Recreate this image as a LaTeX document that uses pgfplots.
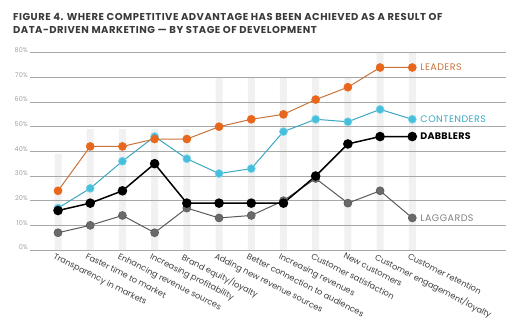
\documentclass[border=0pt]{standalone}
\usepackage{fontspec}
\setmainfont{Poppins}
\usepackage{pgfplots}
\pgfplotsset{compat=1.18}
\definecolor{leadC}{HTML}{E8671C}
\definecolor{leadL}{HTML}{C8733A}
\definecolor{contC}{HTML}{45BFDC}
\definecolor{contL}{HTML}{3AA8C2}
\definecolor{lagC}{HTML}{6A6A6A}
\definecolor{lagL}{HTML}{5A5A5A}
\definecolor{barC}{HTML}{F1F1F1}
\definecolor{gridC}{HTML}{A8A8A8}
\definecolor{titleC}{HTML}{3A3A3A}
\begin{document}
\begin{tikzpicture}
\node[anchor=base west, inner sep=0pt, text=titleC, font=\fontsize{10bp}{11bp}\selectfont\bfseries\addfontfeatures{LetterSpace=5}] at (-17bp,229bp) {FIGURE 4. WHERE COMPETITIVE ADVANTAGE HAS BEEN ACHIEVED AS A RESULT OF};
\node[anchor=base west, inner sep=0pt, text=titleC, font=\fontsize{10bp}{11bp}\selectfont\bfseries\addfontfeatures{LetterSpace=5}] at (-17bp,216bp) {DATA-DRIVEN MARKETING --- BY STAGE OF DEVELOPMENT};
\begin{axis}[
  set layers,
  scale only axis,
  width=476bp, height=197.3bp,
  xmin=-0.87, xmax=13.91, ymin=0, ymax=80,
  axis line style={draw=none},
  clip=false,
  major tick length=0pt,
  ytick={0,10,...,80},
  yticklabel={\pgfmathprintnumber{\tick}\%},
  /pgf/number format/assume math mode=true,
  yticklabel style={anchor=south east, inner sep=0pt, xshift=-2bp, text=gray!75, font=\fontsize{6.5bp}{7bp}\selectfont},
  ymajorgrids,
  grid style={gridC, line width=0.9bp},
  xtick={0,...,11},
  xticklabels={Transparency in markets, Faster time to market, Enhancing revenue sources, Increasing profitability, Brand equity/loyalty, Adding new revenue sources, Better connection to audiences, Increasing revenues, Customer satisfaction, New customers, Customer engagement/loyalty, Customer retention},
  xticklabel style={rotate=-27, anchor=north west, inner sep=0pt, yshift=-3bp, xshift=-1bp, text=black!75, font=\fontsize{8.3bp}{9bp}\selectfont},
]
\addplot[ybar, bar width=7bp, fill=barC, draw=none, on layer=axis background] coordinates {(0,39)(1,49)(2,49)(3,49)(4,49)(5,70)(6,70)(7,70)(8,70)(9,70)(10,80)(11,80)};
% Laggards
\addplot[lagL, line width=1bp, mark=*, mark size=4bp, mark options={fill=lagC, draw=lagL, line width=0.6bp}] coordinates {(0,7)(1,10)(2,14)(3,7)(4,17)(5,13)(6,14)(7,20)(8,29)(9,19)(10,24)(11,13)};
% Contenders
\addplot[contL, line width=1bp, mark=*, mark size=4bp, mark options={fill=contC, draw=contC!70!white, line width=0.6bp}] coordinates {(0,17)(1,25)(2,36)(3,46)(4,37)(5,31)(6,33)(7,48)(8,53)(9,52)(10,57)(11,53)};
% Leaders
\addplot[leadL, line width=1bp, mark=*, mark size=4bp, mark options={fill=leadC, draw=leadC, line width=0.6bp}] coordinates {(0,24)(1,42)(2,42)(3,45)(4,45)(5,50)(6,53)(7,55)(8,61)(9,66)(10,74)(11,74)};
% Dabblers
\addplot[black, line width=1.5bp, mark=*, mark size=4bp, mark options={fill=black, draw=black}] coordinates {(0,16)(1,19)(2,24)(3,35)(4,19)(5,19)(6,19)(7,19)(8,30)(9,43)(10,46)(11,46)};
\node[anchor=west, inner sep=0pt, xshift=8bp, text=leadL, font=\fontsize{9.5bp}{10bp}\selectfont\addfontfeatures{LetterSpace=5}] at (axis cs:11,74) {LEADERS};
\node[anchor=west, inner sep=0pt, xshift=8bp, text=contL, font=\fontsize{9.5bp}{10bp}\selectfont\addfontfeatures{LetterSpace=5}] at (axis cs:11,53) {CONTENDERS};
\node[anchor=west, inner sep=0pt, xshift=8bp, text=black, font=\fontsize{9.5bp}{10bp}\selectfont\bfseries\addfontfeatures{LetterSpace=3}] at (axis cs:11,46) {DABBLERS};
\node[anchor=west, inner sep=0pt, xshift=8bp, text=gray, font=\fontsize{9.5bp}{10bp}\selectfont\addfontfeatures{LetterSpace=5}] at (axis cs:11,13) {LAGGARDS};
\end{axis}
\pgfresetboundingbox
\useasboundingbox (-30bp,-71bp) rectangle (490bp,250bp);
\end{tikzpicture}
\end{document}
